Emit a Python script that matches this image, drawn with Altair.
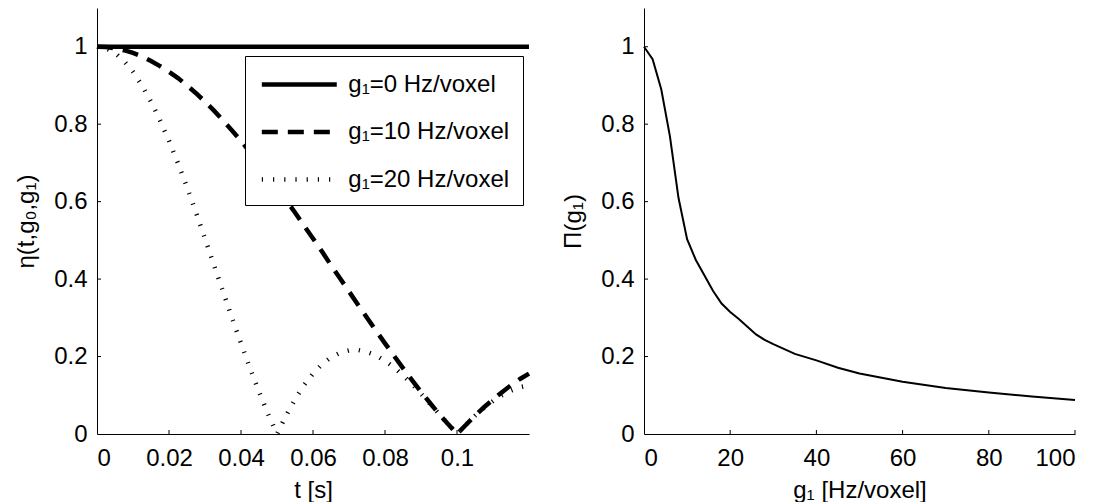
import altair as alt
import pandas as pd

FONT = "Liberation Sans"
FS = 24

# ---- left panel data ----
labels = ["g₁=0 Hz/voxel", "g₁=10 Hz/voxel", "g₁=20 Hz/voxel"]

t_g0 = [0.0, 0.12]
eta_g0 = [1.0, 1.0]

t_grid = [0.0, 0.0025, 0.005, 0.0075, 0.01, 0.0125, 0.015, 0.0175, 0.02, 0.0225,
          0.025, 0.0275, 0.03, 0.0325, 0.035, 0.0375, 0.04, 0.0425, 0.045, 0.0475,
          0.05, 0.0525, 0.055, 0.0575, 0.06, 0.0625, 0.065, 0.0675, 0.07, 0.0725,
          0.075, 0.0775, 0.08, 0.0825, 0.085, 0.0875, 0.09, 0.0925, 0.095, 0.0975,
          0.1, 0.1025, 0.105, 0.1075, 0.11, 0.1125, 0.115, 0.1175, 0.12]

eta_g10 = [1.0, 0.999, 0.996, 0.991, 0.984, 0.975, 0.963, 0.950, 0.935, 0.919,
           0.900, 0.880, 0.858, 0.835, 0.810, 0.784, 0.757, 0.728, 0.699, 0.668,
           0.637, 0.604, 0.572, 0.538, 0.505, 0.471, 0.436, 0.402, 0.368, 0.334,
           0.300, 0.267, 0.234, 0.202, 0.170, 0.139, 0.109, 0.080, 0.052, 0.026,
           0.0, 0.024, 0.047, 0.069, 0.089, 0.108, 0.126, 0.142, 0.156]

eta_g20 = [1.0, 0.996, 0.984, 0.963, 0.935, 0.900, 0.858, 0.810, 0.757, 0.699,
           0.637, 0.572, 0.505, 0.436, 0.368, 0.300, 0.234, 0.170, 0.109, 0.052,
           0.0, 0.047, 0.089, 0.126, 0.156, 0.180, 0.198, 0.210, 0.216, 0.217,
           0.212, 0.203, 0.189, 0.172, 0.151, 0.129, 0.104, 0.078, 0.052, 0.026,
           0.0, 0.024, 0.047, 0.067, 0.085, 0.100, 0.112, 0.121, 0.126]

# ---- right panel data ----
g1_vals = [0, 2, 4, 6, 8, 10, 12, 14, 16, 18, 20, 22, 24, 26, 28, 30,
           35, 40, 45, 50, 60, 70, 80, 90, 100]
pi_vals = [1.0, 0.968, 0.89, 0.77, 0.61, 0.503, 0.45, 0.41, 0.37, 0.337,
           0.315, 0.297, 0.277, 0.257, 0.243, 0.232, 0.207, 0.19, 0.171,
           0.156, 0.135, 0.119, 0.107, 0.097, 0.088]

left_xticks = [0, 0.02, 0.04, 0.06, 0.08, 0.1]
left_yticks = [0, 0.2, 0.4, 0.6, 0.8, 1]
right_xticks = [0, 20, 40, 60, 80, 100]
right_yticks = [0, 0.2, 0.4, 0.6, 0.8, 1]

rows = []
for t, v in zip(t_g0, eta_g0):
    rows.append({"t": t, "eta": v, "series": labels[0]})
for t, v in zip(t_grid, eta_g10):
    rows.append({"t": t, "eta": v, "series": labels[1]})
for t, v in zip(t_grid, eta_g20):
    rows.append({"t": t, "eta": v, "series": labels[2]})
left_df = pd.DataFrame(rows)
right_df = pd.DataFrame({"g1": g1_vals, "pi": pi_vals})

W_L, W_R, H = 432, 431, 426

xl = alt.Scale(domain=[0, 0.12], nice=False, zero=False)
yl = alt.Scale(domain=[0, 1.1], nice=False, zero=False)
xr = alt.Scale(domain=[0, 100], nice=False, zero=False)

x_axis_kw = dict(labelPadding=12, titlePadding=8, format="~r")
y_axis_kw = dict(labelPadding=10, titlePadding=15, format="~r")

lines = alt.Chart(left_df).mark_line(strokeCap="butt").encode(
    x=alt.X("t:Q", scale=xl, axis=alt.Axis(values=left_xticks, title="t [s]", **x_axis_kw)),
    y=alt.Y("eta:Q", scale=yl, axis=alt.Axis(values=left_yticks, title="η(t,g₀,g₁)", **y_axis_kw)),
    color=alt.value("black"),
    strokeWidth=alt.value(4.5),
    strokeDash=alt.StrokeDash(
        "series:N",
        scale=alt.Scale(domain=labels, range=[[1, 0], [16, 10], [1.2, 10]]),
        legend=alt.Legend(
            title=None, orient="none", legendX=148, legendY=48,
            fillColor="white", strokeColor="black", padding=13.5,
            symbolType="M-2.94,0H2.94", symbolSize=650, symbolStrokeWidth=4.5,
            symbolOffset=25.8, symbolFillColor="transparent",
            symbolStrokeColor="black", labelFont=FONT, labelFontSize=FS,
            labelColor="black", labelOffset=34, labelLimit=400, rowPadding=20.5,
        ),
    ),
    detail="series:N",
)

lx_ticks = alt.Chart(pd.DataFrame({"v": left_xticks[1:]})).mark_rule(color="black", strokeWidth=1).encode(
    x=alt.X("v:Q", scale=xl), y=alt.value(H), y2=alt.value(H - 4))
ly_ticks = alt.Chart(pd.DataFrame({"v": left_yticks[1:]})).mark_rule(color="black", strokeWidth=1).encode(
    y=alt.Y("v:Q", scale=yl), x=alt.value(0), x2=alt.value(4))

left = alt.layer(lines, lx_ticks, ly_ticks).properties(width=W_L, height=H)

curve = alt.Chart(right_df).mark_line(color="black", strokeWidth=2).encode(
    x=alt.X("g1:Q", scale=xr, axis=alt.Axis(values=right_xticks, title="g₁ [Hz/voxel]", **x_axis_kw)),
    y=alt.Y("pi:Q", scale=yl, axis=alt.Axis(values=right_yticks, title="Π(g₁)", **y_axis_kw)),
)
rx_ticks = alt.Chart(pd.DataFrame({"v": right_xticks[1:]})).mark_rule(color="black", strokeWidth=1).encode(
    x=alt.X("v:Q", scale=xr), y=alt.value(H), y2=alt.value(H - 4))
ry_ticks = alt.Chart(pd.DataFrame({"v": right_yticks[1:]})).mark_rule(color="black", strokeWidth=1).encode(
    y=alt.Y("v:Q", scale=yl), x=alt.value(0), x2=alt.value(4))

right = alt.layer(curve, rx_ticks, ry_ticks).properties(width=W_R, height=H)

chart = alt.hconcat(left, right, spacing=23).properties(
    padding={"left": 6, "top": 0, "right": 0, "bottom": 0},
    background="white",
).configure_view(stroke=None).configure_axis(
    domainColor="black", domainWidth=1, ticks=False, grid=False,
    labelFont=FONT, labelFontSize=FS, labelColor="black",
    titleFont=FONT, titleFontSize=FS, titleColor="black", titleFontWeight="normal",
)

chart.save("out.html", embed_options={"renderer": "svg", "actions": False})
